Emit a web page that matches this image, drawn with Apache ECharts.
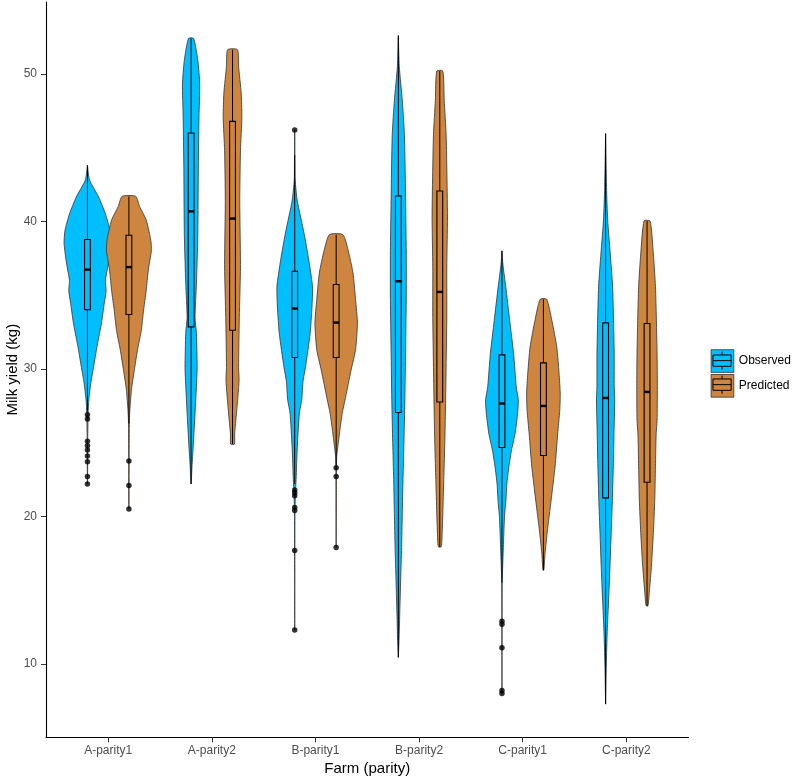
<!DOCTYPE html>
<html>
<head>
<meta charset="utf-8">
<script src="https://cdn.jsdelivr.net/npm/echarts@6/dist/echarts.min.js"></script>
<style>html,body{margin:0;padding:0;background:#fff}#chart{width:793px;height:778px}</style>
</head>
<body>
<div id="chart"></div>
<script>
// ---------------- data ----------------
const categories = ['A-parity1', 'A-parity2', 'B-parity1', 'B-parity2', 'C-parity1', 'C-parity2'];
const seriesNames = ['Observed', 'Predicted'];
const yTicks = [10, 20, 30, 40, 50];

// violin density profiles: [milk yield, relative density (0-100)] from top to bottom
const observedViolins = [
  [[43.8,0],[42.8,9],[41.65,48],[40.5,77],[39.4,96],[38.5,100],[37.1,89],[36.0,77],[35.3,80],[34.45,72],[33.1,60],[31.7,43],[30.4,29],[29.0,14],[27.9,6],[27.0,3],[25.0,1],[22.2,0.5]],
  [[52.4,11],[50.9,29],[49.3,37],[47.1,34],[43.7,31],[39.2,29],[35.8,23],[33.5,17],[32.4,23],[30.1,26],[29.2,24],[27.0,17],[24.7,9],[23.4,4],[22.2,0.5]],
  [[46.2,0.5],[44.0,1],[42.8,2],[41.4,11],[39.2,40],[37.4,60],[35.6,76],[34.2,74],[32.4,66],[30.1,46],[29.2,36],[27.9,30],[27.0,20],[24.7,11],[22.5,6],[21.6,3],[20.0,1],[17.0,0.5],[12.3,0.3]],
  [[52.6,0],[50.5,4],[48.2,17],[45.9,26],[43.7,29],[41.4,31],[38.0,34],[34.7,34],[31.3,31],[27.9,28],[25.0,24],[22.5,20],[20.2,17],[17.9,14],[15.7,10],[13.4,6],[11.6,3],[10.45,0]],
  [[38.0,0],[37.1,4],[35.6,16],[33.3,33],[31.0,50],[28.8,61],[27.9,70],[27.0,67],[25.6,56],[24.5,41],[23.4,30],[22.2,21],[21.1,17],[20.0,11],[18.4,7],[17.0,4],[15.6,1],[12.0,0.5],[7.96,0.3]],
  [[45.95,0],[42.3,4],[40.1,9],[37.8,20],[35.6,30],[33.3,34],[31.0,37],[28.8,37],[27.9,39],[25.6,36],[23.4,33],[21.1,29],[18.9,24],[16.7,19],[14.4,13],[12.2,7],[10.0,3],[7.28,0]]
];
const predictedViolins = [
  [[41.7,29],[41.0,46],[40.1,74],[38.7,94],[38.0,96],[36.7,83],[35.3,74],[34.0,63],[32.6,53],[31.3,37],[29.9,23],[28.6,11],[27.2,4],[26.5,2],[24.0,1],[20.5,0.5]],
  [[51.64,21],[50.5,26],[48.7,37],[47.1,40],[44.8,34],[41.4,31],[36.9,34],[33.5,29],[30.1,26],[29.2,28],[27.0,17],[25.6,9],[24.9,8]],
  [[39.1,29],[38.0,52],[36.5,72],[34.7,83],[33.1,91],[31.3,83],[30.0,65],[29.0,52],[27.9,38],[27.0,26],[25.85,16],[24.7,7],[24.0,2],[22.0,1],[17.94,0.5]],
  [[50.19,13],[48.2,19],[45.9,27],[43.7,30],[40.3,33],[36.9,30],[33.5,30],[30.1,27],[27.0,24],[24.7,21],[22.5,17],[20.2,13],[18.4,9],[17.94,6]],
  [[34.72,14],[33.3,36],[31.5,57],[29.7,67],[28.3,72],[27.2,70],[25.6,61],[23.4,50],[21.1,33],[18.9,16],[17.5,7],[16.36,2]],
  [[40.03,13],[37.8,27],[35.6,36],[33.3,40],[31.0,43],[28.8,44],[26.5,43],[25.6,39],[23.4,36],[21.1,33],[18.9,27],[16.7,19],[14.9,10],[13.94,4]]
];

// boxplot stats: [lower whisker, Q1, median, Q3, upper whisker]
const observedBoxes = [
  [27.1, 34.02, 36.73, 38.77, 43.8],
  [22.2, 32.85, 40.68, 45.99, 52.4],
  [22.2, 30.77, 34.09, 36.62, 44.5],
  [10.45, 27.05, 35.94, 41.72, 52.6],
  [15.5, 24.67, 27.66, 30.95, 38.0],
  [7.28, 21.26, 28.03, 33.12, 45.95]
];
const predictedBoxes = [
  [26.3, 33.69, 36.9, 39.06, 41.7],
  [24.9, 32.62, 40.19, 46.78, 51.64],
  [23.5, 30.77, 33.14, 35.72, 39.1],
  [17.94, 27.76, 35.22, 42.06, 50.19],
  [16.36, 24.13, 27.49, 30.41, 34.72],
  [13.94, 22.32, 28.44, 33.08, 40.03]
];

// outliers: [category index, milk yield]
const observedOutliers = [
  [0,26.9],[0,26.6],[0,25.1],[0,24.8],[0,24.5],[0,24.1],[0,23.7],[0,22.7],[0,22.2],
  [2,46.2],[2,21.8],[2,21.6],[2,21.4],[2,20.6],[2,20.4],[2,17.7],[2,12.3],
  [4,12.9],[4,12.7],[4,11.1],[4,8.2],[4,8.0]
];
const predictedOutliers = [
  [0,23.75],[0,22.1],[0,20.5],
  [2,23.3],[2,22.7],[2,17.9]
];

// ---------------- styling ----------------
const colors = ['#00BFFF', '#CD853F'];
const dodge = 0.2;          // group offset (category units)
const violinMaxHalf = 0.2255; // half width of densest violin (category units)
const boxHalf = 0.028;      // box half width (category units)
const FONT = "'Liberation Sans', Arial, sans-serif";

function violinSeries(name, profiles, offset, color) {
  return {
    type: 'custom', name: name, coordinateSystem: 'cartesian2d',
    itemStyle: { color: color, borderColor: '#333', borderWidth: 0.8 },
    encode: { x: 0, y: 1 },
    data: profiles.map((p, i) => [i, p[0][0]]),
    renderItem: function (params, api) {
      const ci = api.value(0);
      const prof = profiles[ci];
      const band = api.size([1, 0])[0];
      const cx = api.coord([ci + offset, prof[0][0]])[0];
      const R = [], L = [];
      prof.forEach(function (pt) {
        const y = api.coord([ci + offset, pt[0]])[1];
        const w = pt[1] / 100 * violinMaxHalf * band;
        R.push([cx + w, y]); L.push([cx - w, y]);
      });
      return {
        type: 'polygon',
        shape: { points: R.concat(L.reverse()), smooth: 0.2 },
        style: { fill: color, stroke: '#333', lineWidth: 0.8 }
      };
    }
  };
}

function boxSeries(name, boxes, offset, color) {
  return {
    type: 'custom', name: name, coordinateSystem: 'cartesian2d',
    encode: { x: 0, y: 1 },
    data: boxes.map((b, i) => [i, b[2]]),
    renderItem: function (params, api) {
      const ci = api.value(0);
      const s = boxes[ci];
      const band = api.size([1, 0])[0];
      const x = api.coord([ci + offset, s[2]])[0];
      const hw = boxHalf * band;
      const y = v => api.coord([ci + offset, v])[1];
      return {
        type: 'group',
        children: [
          { type: 'line', shape: { x1: x, y1: y(s[4]), x2: x, y2: y(s[3]) }, style: { stroke: '#000', lineWidth: 1 } },
          { type: 'line', shape: { x1: x, y1: y(s[1]), x2: x, y2: y(s[0]) }, style: { stroke: '#000', lineWidth: 1 } },
          { type: 'rect', shape: { x: x - hw, y: y(s[3]), width: 2 * hw, height: y(s[1]) - y(s[3]) }, style: { fill: color, stroke: '#000', lineWidth: 1.1 } },
          { type: 'line', shape: { x1: x - hw, y1: y(s[2]), x2: x + hw, y2: y(s[2]) }, style: { stroke: '#000', lineWidth: 2.4 } }
        ]
      };
    }
  };
}

function outlierSeries(name, pts, offset) {
  return {
    type: 'scatter', name: name,
    symbol: 'circle', symbolSize: 5.5,
    itemStyle: { color: '#000' },
    data: pts.map(p => [p[0] + offset, p[1]]),
    z: 5
  };
}

// legend key glyph (boxplot symbol drawn over the legend swatch)
function keyGlyph(x0, y0, s) {
  const st = { stroke: '#000', lineWidth: 1, fill: null };
  return [
    { type: 'line', shape: { x1: x0 + s * 0.5, y1: y0 + s * 0.1, x2: x0 + s * 0.5, y2: y0 + s * 0.25 }, style: st, z: 100 },
    { type: 'line', shape: { x1: x0 + s * 0.5, y1: y0 + s * 0.75, x2: x0 + s * 0.5, y2: y0 + s * 0.9 }, style: st, z: 100 },
    { type: 'rect', shape: { x: x0 + s * 0.1, y: y0 + s * 0.25, width: s * 0.8, height: s * 0.5 }, style: st, z: 100 },
    { type: 'line', shape: { x1: x0 + s * 0.1, y1: y0 + s * 0.5, x2: x0 + s * 0.9, y2: y0 + s * 0.5 }, style: st, z: 100 }
  ];
}

const chart = echarts.init(document.getElementById('chart'), null, { renderer: 'canvas' });
const keySize = 22.7, legendLeft = 710.7, legendTop = 349.3, legendGap = 1.3;

chart.setOption({
  animation: false,
  backgroundColor: '#fff',
  grid: { left: 46, right: 104.5, top: 2, bottom: 40.7, containLabel: false, outerBoundsMode: 'none' },
  xAxis: {
    type: 'value', min: -0.6, max: 5.6,
    name: 'Farm (parity)', nameLocation: 'middle', nameGap: 24, nameMoveOverlap: false,
    nameTextStyle: { fontFamily: FONT, fontSize: 15, color: '#000' },
    axisLine: { show: true, onZero: false, lineStyle: { color: '#000', width: 1.1 } },
    axisTick: { show: true, length: 5, customValues: categories.map((c, i) => i), lineStyle: { color: '#333', width: 1 } },
    axisLabel: { customValues: categories.map((c, i) => i), formatter: v => categories[Math.round(v)], fontFamily: FONT, fontSize: 12, color: '#4D4D4D', margin: 7 },
    splitLine: { show: false }
  },
  yAxis: {
    type: 'value', min: 5.03, max: 54.87,
    name: 'Milk yield (kg)', nameLocation: 'middle', nameGap: 26, nameMoveOverlap: false,
    nameTextStyle: { fontFamily: FONT, fontSize: 15, color: '#000' },
    axisLine: { show: true, onZero: false, lineStyle: { color: '#000', width: 1.1 } },
    axisTick: { show: true, length: 5, customValues: yTicks, lineStyle: { color: '#333', width: 1 } },
    axisLabel: { customValues: yTicks, fontFamily: FONT, fontSize: 12, color: '#4D4D4D', margin: 9 },
    splitLine: { show: false }
  },
  legend: {
    data: seriesNames,
    orient: 'vertical', left: legendLeft, top: legendTop, padding: 0,
    itemWidth: keySize, itemHeight: keySize, itemGap: legendGap,
    icon: 'rect',
    itemStyle: { borderColor: '#333', borderWidth: 0.8 },
    textStyle: { fontFamily: FONT, fontSize: 12, color: '#000' },
    selectedMode: false
  },
  graphic: keyGlyph(legendLeft, legendTop, keySize).concat(keyGlyph(legendLeft, legendTop + keySize + legendGap, keySize)),
  series: [
    violinSeries(seriesNames[0], observedViolins, -dodge, colors[0]),
    violinSeries(seriesNames[1], predictedViolins, dodge, colors[1]),
    boxSeries('Observed box', observedBoxes, -dodge, colors[0]),
    boxSeries('Predicted box', predictedBoxes, dodge, colors[1]),
    outlierSeries('Observed outliers', observedOutliers, -dodge),
    outlierSeries('Predicted outliers', predictedOutliers, dodge)
  ]
});
</script>
</body>
</html>
